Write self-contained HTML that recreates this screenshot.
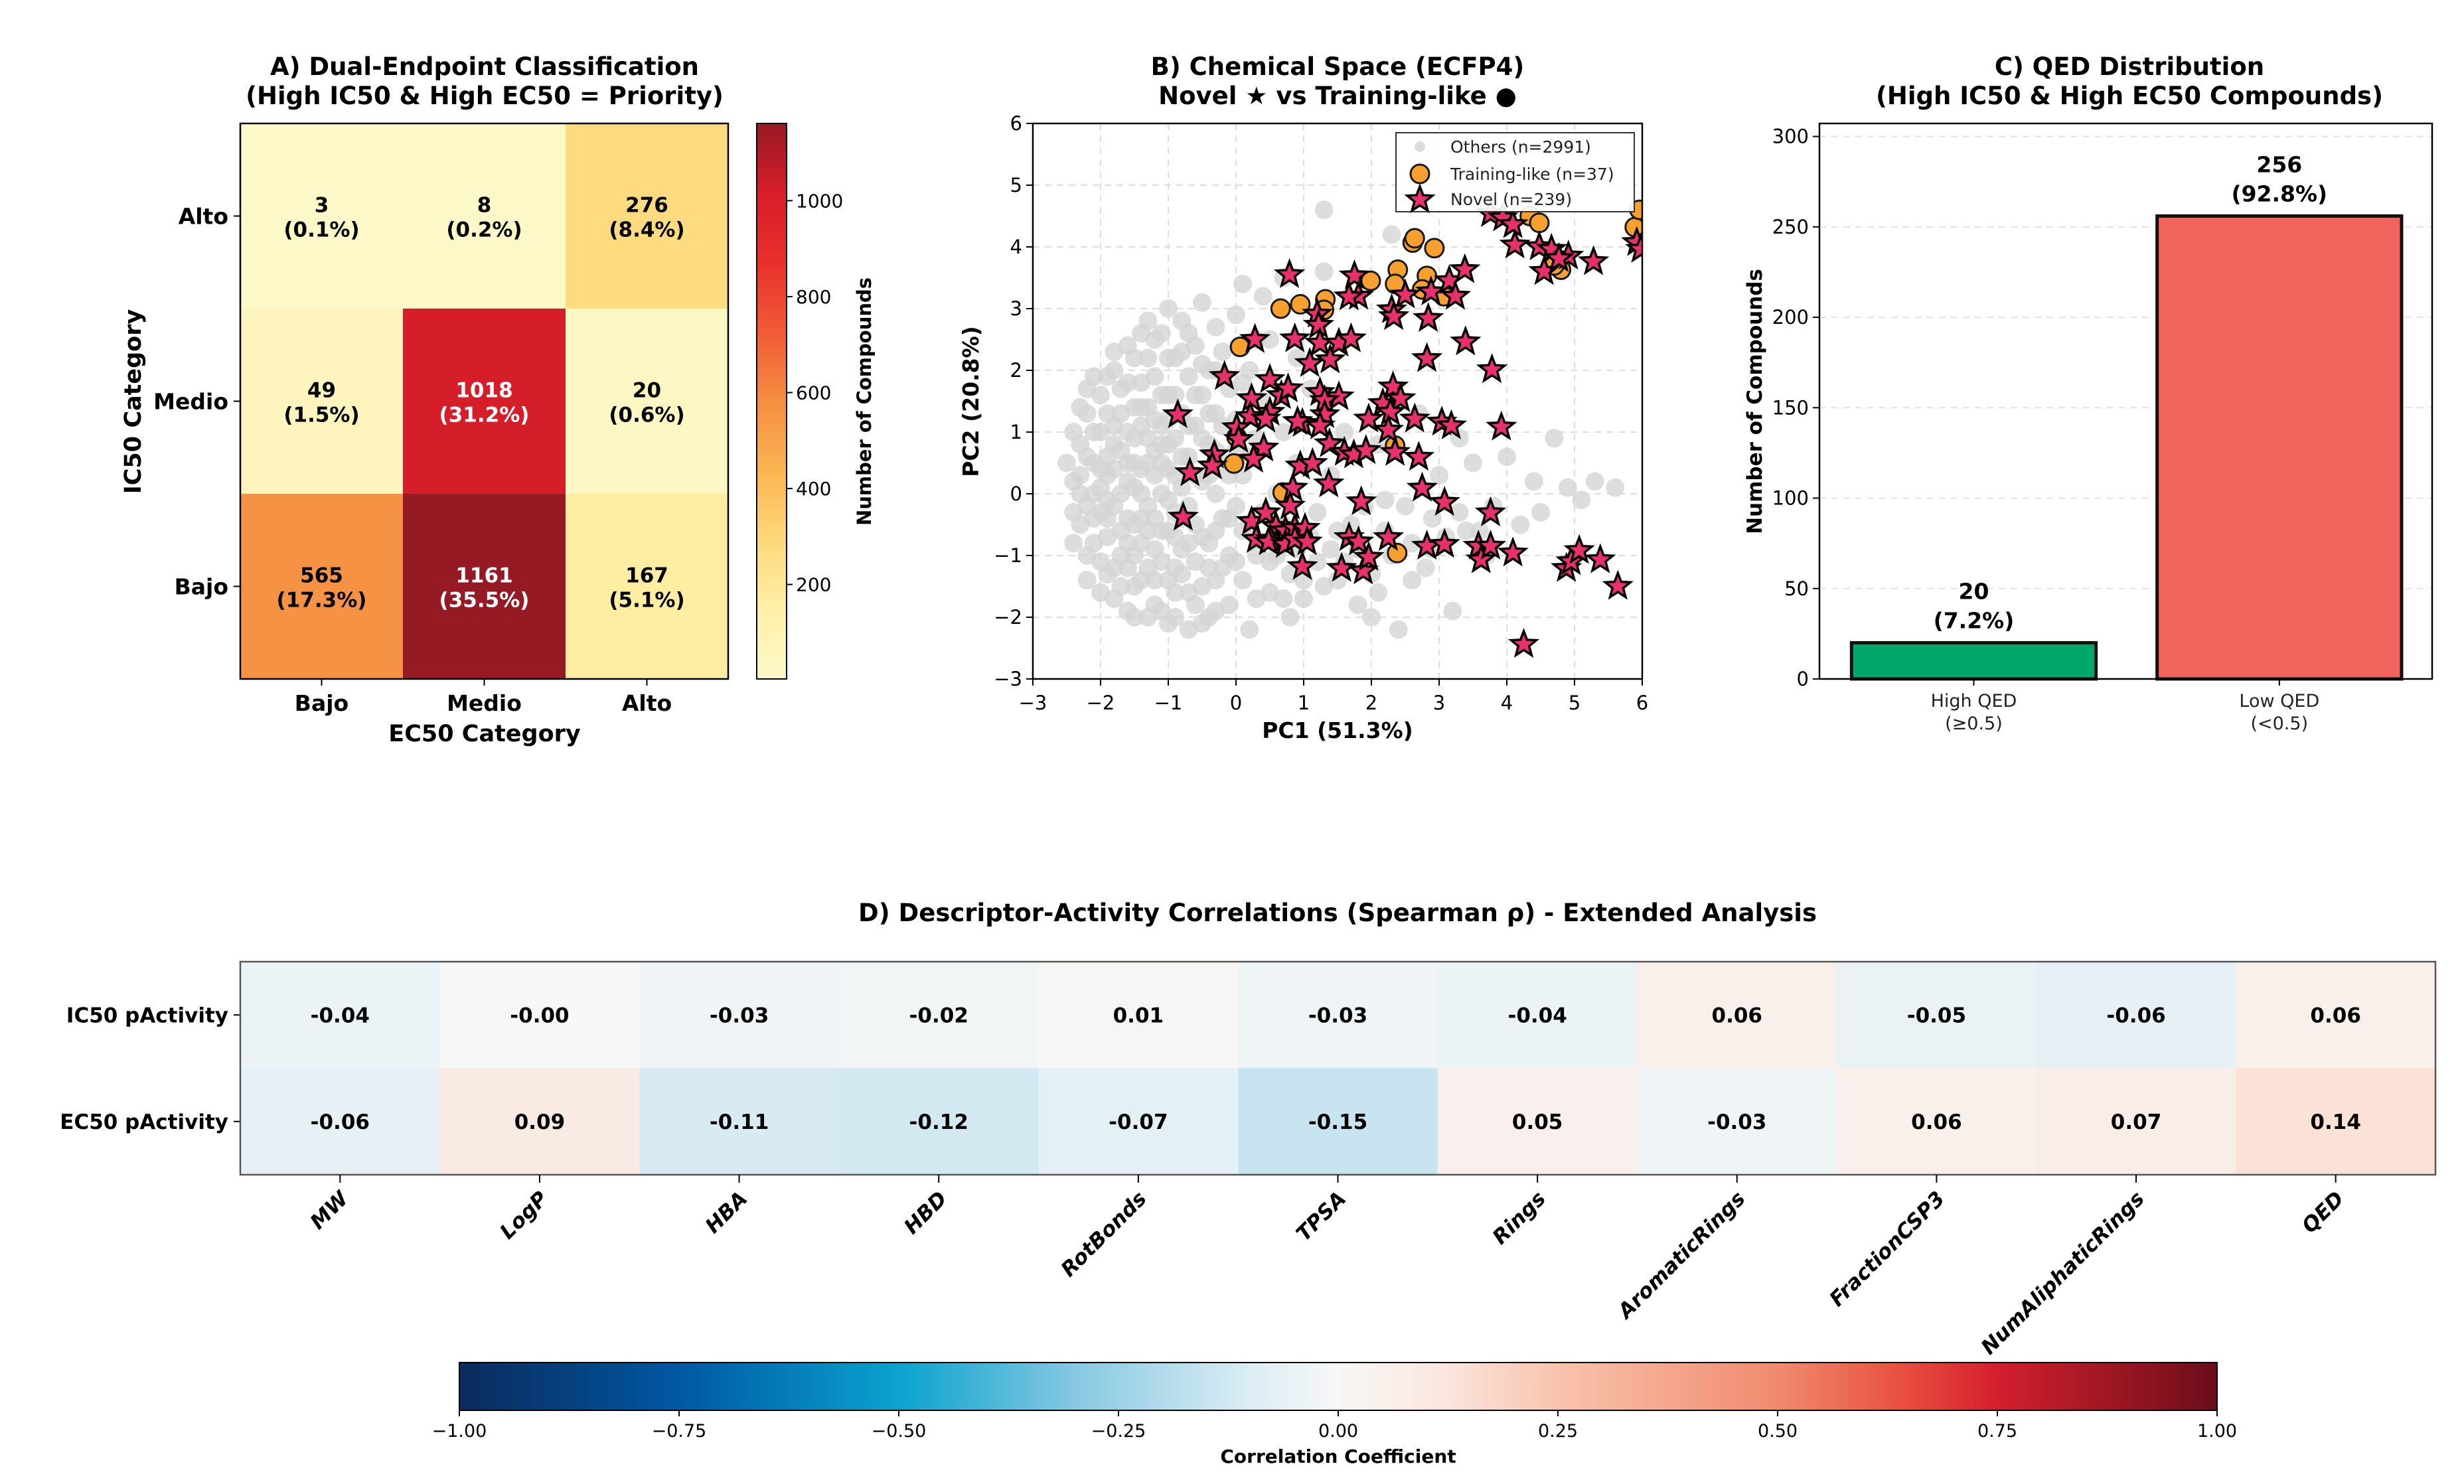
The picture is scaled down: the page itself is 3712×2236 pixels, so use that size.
<!DOCTYPE html>
<html><head><meta charset="utf-8"><style>
html,body{margin:0;padding:0;background:#fff;}
svg{display:block;font-family:"DejaVu Sans","Liberation Sans",sans-serif;}
</style></head><body>
<svg id="fig" width="3712" height="2236" viewBox="0 0 3712 2236" xmlns="http://www.w3.org/2000/svg">
<defs>
<linearGradient id="ylorrd" x1="0" y1="1" x2="0" y2="0"></linearGradient>
<linearGradient id="rdbu" x1="0" y1="0" x2="1" y2="0"></linearGradient>
</defs>
<g id="root"></g>
</svg>
<script>
// ---------- Panel A data ----------
const aRows = ['Alto','Medio','Bajo'];
const aCols = ['Bajo','Medio','Alto'];
const aCounts = [[3,8,276],[49,1018,20],[565,1161,167]];
const aPct = [['0.1%','0.2%','8.4%'],['1.5%','31.2%','0.6%'],['17.3%','35.5%','5.1%']];
const aCbTicks = [200,400,600,800,1000];
// ---------- Panel B data ----------
const bXTicks = [-3,-2,-1,0,1,2,3,4,5,6];
const bYTicks = [-3,-2,-1,0,1,2,3,4,5,6];
const othersX = [-2.4,-2.3,-2.3,-2.2,-2.2,-2.1,-2.1,-2.0,-2.0,-2.0,-1.9,-1.9,-1.9,-1.8,-1.8,-1.8,-1.7,-1.7,-1.7,-1.6,-1.6,-1.6,-1.6,-1.5,-1.5,-1.5,-1.5,-1.4,-1.4,-1.4,-1.3,-1.3,-1.3,-1.3,-1.2,-1.2,-1.2,-1.1,-1.1,-1.1,-1.1,-1.0,-1.0,-1.0,-1.0,-0.9,-0.9,-0.9,-0.9,-0.8,-0.8,-0.8,-0.8,-0.7,-0.7,-0.7,-0.6,-0.6,-0.6,-0.6,-0.5,-0.5,-0.5,-0.5,-0.4,-0.4,-0.4,-0.3,-0.3,-0.3,-0.3,-0.2,-0.2,-0.2,-0.1,-0.1,-0.1,0,0,0,0.1,0.1,0.1,0.2,0.2,0.3,0.3,0.4,0.4,0.4,0.5,0.5,0.6,0.6,0.7,0.7,0.8,0.8,0.9,0.9,1.0,1.0,1.1,1.2,1.2,1.3,1.4,1.4,1.5,1.6,1.7,1.8,1.9,2.0,2.0,2.1,2.2,2.3,2.4,2.5,2.6,2.7,2.8,2.9,3.0,3.1,3.2,3.3,3.5,3.6,3.8,4.0,4.2,4.4,4.5,4.7,4.9,5.1,5.3,5.6,2.3,0.1,1.3,3.3,-2.2,-1.9,-1.7,-1.6,-1.4,-1.3,-1.2,-1.1,-2.1,-1.8,-1.5,-1.4,-1.9,-1.6,-1.2,-0.9,-0.7,-0.5,-0.3,-1.0,-2.0,-2.3,
-2.5,-2.4,-2.4,-2.3,-2.3,-2.2,-2.2,-2.1,-2.1,-2.1,-2.0,-2.0,-1.9,-1.9,-1.9,-1.8,-1.8,-1.8,-1.7,-1.7,-1.7,-1.6,-1.6,-1.5,-1.5,-1.5,-1.5,-1.4,-1.4,-1.4,-1.3,-1.3,-1.3,-1.2,-1.2,-1.2,-1.2,-1.1,-1.1,-1.1,-1.1,-1.0,-1.0,-1.0,-1.0,-0.9,-0.9,-0.9,-0.9,-0.8,-0.8,-0.8,-0.8,-0.7,-0.7,-0.7,-0.6,-0.6,-0.6,-0.5,-0.5,-0.5,-0.4,-0.4,-0.4,-0.3,-0.3,-0.3,-0.2,-0.2,-0.1,-0.1,0,0,0.1,0.2,0.2,0.3,0.3,0.5,0.5,0.7,0.7,0.9,1.0,1.1,1.3,1.5,1.6,1.8,2.1,2.2,2.6,2.9,3.4,3.7,-2.4,-2.2,-2.0,-1.8,-1.6,-1.4,-1.3,-1.0,-0.7,-0.4];
const othersY = [0.2,-0.5,0.8,-1.0,1.3,0,0.5,-0.3,1.0,1.6,-1.3,0.3,-0.7,0.8,2.0,-1.7,0,1.3,-1.0,0.5,-0.4,1.8,2.4,-1.5,0.9,0.1,-2.0,1.4,-0.8,0.4,2.2,-1.2,-0.2,2.8,0.7,1.9,-1.8,0,1.1,-0.6,2.6,1.6,-1.4,0.4,3.0,-0.3,0.9,2.2,-2.0,1.3,-0.9,0.1,2.8,-1.6,0.6,1.9,-0.5,2.4,1.1,-1.1,3.1,0.2,1.6,-2.1,-0.8,2.0,0.8,-1.4,2.7,1.3,0,-0.4,0.5,2.3,-1.0,1.7,-1.8,-0.2,1.2,2.9,-0.6,0.3,-1.4,2.0,-2.2,0.9,-1.0,3.2,-0.3,1.5,-1.6,2.5,0,-1.0,3.5,1.0,-1.3,-2.0,0.5,2.2,-0.6,-1.7,1.7,-0.3,-1.1,3.6,0.3,-0.9,-1.4,1.0,-0.5,-1.8,-0.2,-1.3,-2.0,0.8,-0.6,-1.0,-2.2,-0.2,-0.8,1.3,-1.2,-0.4,0.3,-0.7,-1.9,-0.3,0.5,-0.6,-0.2,0.6,-0.5,0.2,-0.3,0.9,0.1,-0.1,0.2,0.1,4.2,3.4,4.6,0.9,-0.2,0.6,-0.6,0.2,-0.4,0.9,-0.9,0.5,-0.8,1.1,-1.0,1.1,-0.1,-1.2,0.3,-1.2,-0.2,-1.5,-0.6,-0.1,0.4,0.0,
0.5,-0.3,1.0,0.3,1.4,0.6,-1.4,1.0,-0.4,1.9,-1.1,0.1,1.3,-0.4,1.9,-0.2,0.4,-1.2,0.7,1.7,-1.5,1.0,-0.8,0.5,1.4,-0.5,2.2,-1.4,0.0,1.8,0.5,-0.6,1.4,-0.4,1.2,-1.4,2.5,-1.1,0.8,1.6,-1.9,0.8,-0.6,2.2,1.2,0.3,-0.7,1.6,-1.6,0.6,-0.4,2.3,-1.3,1.1,-0.8,2.6,0.3,1.6,-1.8,0.9,-0.7,2.1,0.3,1.3,-1.2,0.7,-1.9,2.0,1.1,-1.2,0.3,-0.4,0.7,-1.1,1.8,-0.5,0.6,-1.7,2.5,-0.4,-1.1,-0.5,-1.7,-0.9,-1.4,-0.7,-1.5,-0.6,-1.1,-0.9,-1.6,-0.1,-1.4,-0.9,-0.6,-1.0,-0.8,1.7,-1.6,2.3,-1.9,2.6,-2.0,-2.1,-2.2,-2.0];
const trainX = [0.06,0.66,0.95,1.32,1.30,1.99,2.39,2.35,2.61,2.64,2.93,2.82,2.75,3.07,4.34,4.48,4.80,5.89,-0.03,0.01,0.69,2.38,2.35,4.70,5.96];
const trainY = [2.38,3.00,3.07,3.15,2.98,3.45,3.63,3.40,4.07,4.14,3.98,3.53,3.31,3.20,4.50,4.39,3.63,4.32,0.49,0.92,0.02,-0.96,0.78,3.70,4.60];
const novelX = [0.79,1.75,1.81,1.67,2.50,2.88,3.15,3.38,3.24,2.30,2.33,2.84,1.20,1.22,0.28,0.87,1.24,1.52,1.70,1.09,1.39,3.39,2.82,3.78,-0.17,0.50,0.67,0.77,0.23,0.21,0.01,0.04,0.50,0.44,0.98,0.91,1.24,1.52,1.31,1.31,1.24,2.32,2.17,2.43,2.28,1.96,2.25,2.64,3.04,3.18,3.92,1.38,1.60,1.74,1.92,2.35,2.70,0.41,0.26,-0.32,-0.35,-0.68,-0.86,0.95,1.13,0.84,1.37,2.75,3.08,1.85,3.76,-0.78,0.23,0.44,0.59,0.30,0.51,0.73,0.87,1.02,0.48,0.73,0.87,1.05,0.98,1.56,1.67,1.81,1.88,1.96,2.25,2.82,3.08,3.58,3.62,3.76,4.09,4.88,4.95,5.07,5.38,5.64,4.25,3.76,3.94,4.09,4.12,4.48,4.66,4.55,4.91,5.28,5.92,5.98,0.80,4.77];
const novelY = [3.55,3.53,3.20,3.19,3.22,3.27,3.45,3.63,3.20,2.98,2.87,2.84,2.91,2.73,2.50,2.51,2.44,2.44,2.51,2.11,2.17,2.46,2.19,2.01,1.90,1.85,1.59,1.70,1.54,1.25,1.07,0.88,1.32,1.21,1.14,1.17,1.64,1.57,1.51,1.28,1.10,1.73,1.46,1.54,1.32,1.21,1.03,1.21,1.16,1.10,1.08,0.81,0.67,0.63,0.70,0.67,0.59,0.74,0.56,0.63,0.45,0.34,1.28,0.45,0.49,0.09,0.16,0.09,-0.14,-0.13,-0.31,-0.38,-0.45,-0.31,-0.53,-0.74,-0.74,-0.60,-0.56,-0.56,-0.78,-0.82,-0.74,-0.78,-1.18,-1.21,-0.71,-0.78,-1.25,-1.03,-0.71,-0.85,-0.82,-0.85,-1.07,-0.85,-0.96,-1.21,-1.10,-0.92,-1.07,-1.50,-2.44,4.54,4.47,4.36,4.03,4.00,3.96,3.60,3.85,3.76,4.07,3.96,-0.20,3.81];
// ---------- Panel C data ----------
const cCats = [['High QED','(≥0.5)'],['Low QED','(<0.5)']];
const cVals = [20,256];
const cPct = ['7.2%','92.8%'];
const cYTicks = [0,50,100,150,200,250,300];
// ---------- Panel D data ----------
const dCols = ['MW','LogP','HBA','HBD','RotBonds','TPSA','Rings','AromaticRings','FractionCSP3','NumAliphaticRings','QED'];
const dRows = ['IC50 pActivity','EC50 pActivity'];
const dIC50 = [-0.04,-0.00,-0.03,-0.02,0.01,-0.03,-0.04,0.06,-0.05,-0.06,0.06];
const dEC50 = [-0.06,0.09,-0.11,-0.12,-0.07,-0.15,0.05,-0.03,0.06,0.07,0.14];
const dLabels1 = ['-0.04','-0.00','-0.03','-0.02','0.01','-0.03','-0.04','0.06','-0.05','-0.06','0.06'];
const dLabels2 = ['-0.06','0.09','-0.11','-0.12','-0.07','-0.15','0.05','-0.03','0.06','0.07','0.14'];
const dCbTicks = [-1,-0.75,-0.5,-0.25,0,0.25,0.5,0.75,1];
const dCbTickLabels = ['−1.00','−0.75','−0.50','−0.25','0.00','0.25','0.50','0.75','1.00'];

const NS='http://www.w3.org/2000/svg';
const root=document.getElementById('root');
function mk(tag,attrs,parent,txt){const e=document.createElementNS(NS,tag);for(const k in attrs)e.setAttribute(k,attrs[k]);if(txt!==undefined)e.textContent=txt;(parent||root).appendChild(e);return e;}
function lerpHex(a,b,t){const pa=[1,3,5].map(i=>parseInt(a.substr(i,2),16)),pb=[1,3,5].map(i=>parseInt(b.substr(i,2),16));return 'rgb('+pa.map((v,i)=>Math.round(v+(pb[i]-v)*t)).join(',')+')';}
function cmap(stops,t){t=Math.max(0,Math.min(1,t));for(let i=1;i<stops.length;i++){if(t<=stops[i][0]){const s=stops[i-1],e=stops[i];return lerpHex(s[1],e[1],(t-s[0])/(e[0]-s[0]));}}return stops[stops.length-1][1];}
const YL=[[0,'#fdf8c8'],[0.125,'#fff0a8'],[0.25,'#fed87a'],[0.375,'#fbb452'],[0.5,'#f58e42'],[0.625,'#f05a36'],[0.75,'#e8302c'],[0.875,'#d71e2a'],[1,'#961a24']];
const RB=[[0,'#0c2a5b'],[0.125,'#0058a3'],[0.25,'#0aa3cf'],[0.35,'#86c8e2'],[0.45,'#dcedf4'],[0.5,'#f7f7f7'],[0.56,'#fbe6de'],[0.625,'#f9c3ad'],[0.75,'#f08a6e'],[0.82,'#e9503f'],[0.875,'#d41f2d'],[1,'#6b0e1a']];
const g=document.getElementById('rdbu');
RB.forEach(s=>mk('stop',{offset:s[0],'stop-color':s[1]},g));
const gy=document.getElementById('ylorrd');
YL.forEach(s=>mk('stop',{offset:s[0],'stop-color':s[1]},gy));

// ================= Panel A =================
const A={x0:362,x1:1097,y0:186,y1:1023};
const aGrp=mk('g',{});


mk('text',{x:730,y:113,'text-anchor':'middle','font-size':37,'font-weight':'bold'},aGrp,'A) Dual-Endpoint Classification');
mk('text',{x:730,y:157,'text-anchor':'middle','font-size':37,'font-weight':'bold'},aGrp,'(High IC50 & High EC50 = Priority)');
const vmin=3,vmax=1161;
const cw=(A.x1-A.x0)/aCols.length, ch=(A.y1-A.y0)/aRows.length;
aRows.forEach((r,i)=>{aCols.forEach((c,j)=>{
 const v=aCounts[i][j];
 const rc=mk('rect',{x:A.x0+j*cw,y:A.y0+i*ch,width:cw+0.5,height:ch+0.5,fill:cmap(YL,(v-vmin)/(vmax-vmin))},aGrp);
 
 
 const col=v>800?'#ffffff':'#000000';
 mk('text',{x:A.x0+(j+0.5)*cw,y:A.y0+(i+0.5)*ch-6,'text-anchor':'middle','font-size':31,'font-weight':'bold',fill:col},aGrp,String(v));
 mk('text',{x:A.x0+(j+0.5)*cw,y:A.y0+(i+0.5)*ch+31,'text-anchor':'middle','font-size':31,'font-weight':'bold',fill:col},aGrp,'('+aPct[i][j]+')');
});
 mk('line',{x1:A.x0-10,x2:A.x0,y1:A.y0+(i+0.5)*ch,y2:A.y0+(i+0.5)*ch,stroke:'#000','stroke-width':2},aGrp);
 mk('text',{x:A.x0-18,y:A.y0+(i+0.5)*ch+12,'text-anchor':'end','font-size':33,'font-weight':'bold'},aGrp,r);
});
aCols.forEach((c,j)=>{
 mk('line',{x1:A.x0+(j+0.5)*cw,x2:A.x0+(j+0.5)*cw,y1:A.y1,y2:A.y1+10,stroke:'#000','stroke-width':2},aGrp);
 mk('text',{x:A.x0+(j+0.5)*cw,y:A.y1+48,'text-anchor':'middle','font-size':33,'font-weight':'bold'},aGrp,c);
});
mk('rect',{x:A.x0,y:A.y0,width:A.x1-A.x0,height:A.y1-A.y0,fill:'none',stroke:'#000','stroke-width':2.5},aGrp);
mk('text',{x:730,y:1117,'text-anchor':'middle','font-size':35,'font-weight':'bold'},aGrp,'EC50 Category');
mk('text',{x:0,y:0,transform:'translate(212,605) rotate(-90)','text-anchor':'middle','font-size':35,'font-weight':'bold'},aGrp,'IC50 Category');
const CBA={x:1140,w:45,y0:186,y1:1023};
const cbA=mk('rect',{x:CBA.x,y:CBA.y0,width:CBA.w,height:CBA.y1-CBA.y0,fill:'url(#ylorrd)',stroke:'#000','stroke-width':2},aGrp);


aCbTicks.forEach(t=>{const y=CBA.y1-(t-vmin)/(vmax-vmin)*(CBA.y1-CBA.y0);
 mk('line',{x1:CBA.x+CBA.w,x2:CBA.x+CBA.w+9,y1:y,y2:y,stroke:'#000','stroke-width':2},aGrp);
 mk('text',{x:CBA.x+CBA.w+14,y:y+10,'font-size':28},aGrp,String(t));});
mk('text',{x:0,y:0,transform:'translate(1312,605) rotate(-90)','text-anchor':'middle','font-size':29,'font-weight':'bold'},aGrp,'Number of Compounds');

// ================= Panel B =================
const B={x0:1556,x1:2474,y0:186,y1:1023,xmin:-3,xmax:6,ymin:-3,ymax:6};
const bx=v=>B.x0+(v-B.xmin)/(B.xmax-B.xmin)*(B.x1-B.x0);
const by=v=>B.y1-(v-B.ymin)/(B.ymax-B.ymin)*(B.y1-B.y0);
const bGrp=mk('g',{});


mk('text',{x:2015,y:113,'text-anchor':'middle','font-size':37,'font-weight':'bold'},bGrp,'B) Chemical Space (ECFP4)');
mk('text',{x:2015,y:157,'text-anchor':'middle','font-size':37,'font-weight':'bold'},bGrp,'Novel ★ vs Training-like ●');
const clip=mk('clipPath',{id:'bclip'},bGrp);mk('rect',{x:B.x0,y:B.y0,width:B.x1-B.x0,height:B.y1-B.y0},clip);
bXTicks.forEach(t=>{mk('line',{x1:bx(t),x2:bx(t),y1:B.y0,y2:B.y1,stroke:'#ddd','stroke-width':2,'stroke-dasharray':'10,8'},bGrp);
 mk('line',{x1:bx(t),x2:bx(t),y1:B.y1,y2:B.y1+10,stroke:'#000','stroke-width':2},bGrp);
 mk('text',{x:bx(t),y:B.y1+46,'text-anchor':'middle','font-size':29},bGrp,t<0?'−'+(-t):String(t));});
bYTicks.forEach(t=>{mk('line',{x1:B.x0,x2:B.x1,y1:by(t),y2:by(t),stroke:'#ddd','stroke-width':2,'stroke-dasharray':'10,8'},bGrp);
 mk('line',{x1:B.x0-10,x2:B.x0,y1:by(t),y2:by(t),stroke:'#000','stroke-width':2},bGrp);
 mk('text',{x:B.x0-16,y:by(t)+10,'text-anchor':'end','font-size':29},bGrp,t<0?'−'+(-t):String(t));});
const pts=mk('g',{'clip-path':'url(#bclip)'},bGrp);
othersX.forEach((x,i)=>{const c=mk('circle',{cx:bx(x),cy:by(othersY[i]),r:14,fill:'#d4d4d4','fill-opacity':0.8},pts);
 
 });
function starPath(cx,cy,R,r){let d='';for(let k=0;k<10;k++){const rad=k%2?r:R;const a=-Math.PI/2+k*Math.PI/5;d+=(k?'L':'M')+(cx+rad*Math.cos(a)).toFixed(1)+','+(cy+rad*Math.sin(a)).toFixed(1);}return d+'Z';}
trainX.forEach((x,i)=>{const c=mk('circle',{cx:bx(x),cy:by(trainY[i]),r:14,fill:'#f7a030',stroke:'#1a1a1a','stroke-width':3},pts);
 
 });
novelX.forEach((x,i)=>{const s=mk('path',{d:starPath(bx(x),by(novelY[i]),20,8.5),fill:'#e8306c',stroke:'#000','stroke-width':3.5,'stroke-linejoin':'miter'},pts);
 
 });
mk('rect',{x:B.x0,y:B.y0,width:B.x1-B.x0,height:B.y1-B.y0,fill:'none',stroke:'#000','stroke-width':2.5},bGrp);
const leg=mk('g',{},bGrp);


mk('rect',{x:2103,y:200,width:359,height:119,fill:'#fff','fill-opacity':0.92,stroke:'#333','stroke-width':2},leg);
mk('circle',{cx:2139,cy:221,r:8,fill:'#dcdcdc'},leg);
mk('text',{x:2185,y:230,'font-size':25,fill:'#222'},leg,'Others (n=2991)');
mk('circle',{cx:2139,cy:262,r:14,fill:'#f7a030',stroke:'#1a1a1a','stroke-width':3},leg);
mk('text',{x:2185,y:271,'font-size':25,fill:'#222'},leg,'Training-like (n=37)');
mk('path',{d:starPath(2139,301,20,8.5),fill:'#e8306c',stroke:'#000','stroke-width':3.5},leg);
mk('text',{x:2185,y:309,'font-size':25,fill:'#222'},leg,'Novel (n=239)');
mk('text',{x:2015,y:1112,'text-anchor':'middle','font-size':33,'font-weight':'bold'},bGrp,'PC1 (51.3%)');
mk('text',{x:0,y:0,transform:'translate(1474,605) rotate(-90)','text-anchor':'middle','font-size':33,'font-weight':'bold'},bGrp,'PC2 (20.8%)');

// ================= Panel C =================
const C={x0:2741,x1:3664,y0:186,y1:1023,ymax:307.2,xmin:-0.505,xmax:1.5};
const cx=v=>C.x0+(v-C.xmin)/(C.xmax-C.xmin)*(C.x1-C.x0);
const cy=v=>C.y1-v/C.ymax*(C.y1-C.y0);
const cGrp=mk('g',{});


mk('text',{x:3208,y:113,'text-anchor':'middle','font-size':37,'font-weight':'bold'},cGrp,'C) QED Distribution');
mk('text',{x:3208,y:157,'text-anchor':'middle','font-size':37,'font-weight':'bold'},cGrp,'(High IC50 & High EC50 Compounds)');
cYTicks.forEach(t=>{mk('line',{x1:C.x0,x2:C.x1,y1:cy(t),y2:cy(t),stroke:'#e2e2e2','stroke-width':2,'stroke-dasharray':'10,8'},cGrp);
 mk('line',{x1:C.x0-10,x2:C.x0,y1:cy(t),y2:cy(t),stroke:'#000','stroke-width':2},cGrp);
 mk('text',{x:C.x0-16,y:cy(t)+10,'text-anchor':'end','font-size':29},cGrp,String(t));});
const barCols=['#00a96b','#f0645c'];
cVals.forEach((v,i)=>{const b=mk('rect',{x:cx(i-0.4),y:cy(v),width:cx(i+0.4)-cx(i-0.4),height:cy(0)-cy(v),fill:barCols[i],stroke:'#111','stroke-width':5},cGrp);
 
 
 mk('text',{x:cx(i),y:cy(v)-66,'text-anchor':'middle','font-size':33,'font-weight':'bold'},cGrp,String(v));
 mk('text',{x:cx(i),y:cy(v)-22,'text-anchor':'middle','font-size':33,'font-weight':'bold'},cGrp,'('+cPct[i]+')');
 mk('line',{x1:cx(i),x2:cx(i),y1:C.y1,y2:C.y1+10,stroke:'#000','stroke-width':2},cGrp);
 mk('text',{x:cx(i),y:C.y1+42,'text-anchor':'middle','font-size':27,fill:'#222'},cGrp,cCats[i][0]);
 mk('text',{x:cx(i),y:C.y1+76,'text-anchor':'middle','font-size':27,fill:'#222'},cGrp,cCats[i][1]);});
mk('rect',{x:C.x0,y:C.y0,width:C.x1-C.x0,height:C.y1-C.y0,fill:'none',stroke:'#000','stroke-width':2.5},cGrp);
mk('text',{x:0,y:0,transform:'translate(2654,605) rotate(-90)','text-anchor':'middle','font-size':31,'font-weight':'bold'},cGrp,'Number of Compounds');

// ================= Panel D =================
const D={x0:362,x1:3669,y0:1449,y1:1770};
const dGrp=mk('g',{});


mk('text',{x:2015,y:1388,'text-anchor':'middle','font-size':37,'font-weight':'bold'},dGrp,'D) Descriptor-Activity Correlations (Spearman ρ) - Extended Analysis');
const dw=(D.x1-D.x0)/dCols.length, dh=(D.y1-D.y0)/2;
[dIC50,dEC50].forEach((row,i)=>{const labs=i?dLabels2:dLabels1;
 row.forEach((v,j)=>{const r=mk('rect',{x:D.x0+j*dw,y:D.y0+i*dh,width:dw+0.5,height:dh+0.5,fill:cmap(RB,(v+1)/2)},dGrp);
  
  
  mk('text',{x:D.x0+(j+0.5)*dw,y:D.y0+(i+0.5)*dh+11,'text-anchor':'middle','font-size':31,'font-weight':'bold'},dGrp,labs[j]);});
 mk('line',{x1:D.x0-10,x2:D.x0,y1:D.y0+(i+0.5)*dh,y2:D.y0+(i+0.5)*dh,stroke:'#000','stroke-width':2},dGrp);
 mk('text',{x:D.x0-18,y:D.y0+(i+0.5)*dh+11,'text-anchor':'end','font-size':31,'font-weight':'bold'},dGrp,dRows[i]);});
mk('rect',{x:D.x0,y:D.y0,width:D.x1-D.x0,height:D.y1-D.y0,fill:'none',stroke:'#555','stroke-width':2.5},dGrp);
dCols.forEach((c,j)=>{const x=D.x0+(j+0.5)*dw;
 mk('line',{x1:x,x2:x,y1:D.y1,y2:D.y1+12,stroke:'#000','stroke-width':2},dGrp);
 mk('text',{x:0,y:0,transform:'translate('+(x+14)+','+(D.y1+38)+') rotate(-45)','text-anchor':'end','font-size':31,'font-weight':'bold','font-style':'italic'},dGrp,c);});
const CBD={x0:692,x1:3340,y0:2053,y1:2125};
const cbD=mk('rect',{x:CBD.x0,y:CBD.y0,width:CBD.x1-CBD.x0,height:CBD.y1-CBD.y0,fill:'url(#rdbu)',stroke:'#000','stroke-width':2},dGrp);


dCbTicks.forEach((t,k)=>{const x=CBD.x0+(t+1)/2*(CBD.x1-CBD.x0);
 mk('line',{x1:x,x2:x,y1:CBD.y1,y2:CBD.y1+9,stroke:'#000','stroke-width':2},dGrp);
 mk('text',{x:x,y:CBD.y1+40,'text-anchor':'middle','font-size':27},dGrp,dCbTickLabels[k]);});
mk('text',{x:2016,y:2204,'text-anchor':'middle','font-size':28,'font-weight':'bold'},dGrp,'Correlation Coefficient');
</script>
</body></html>
